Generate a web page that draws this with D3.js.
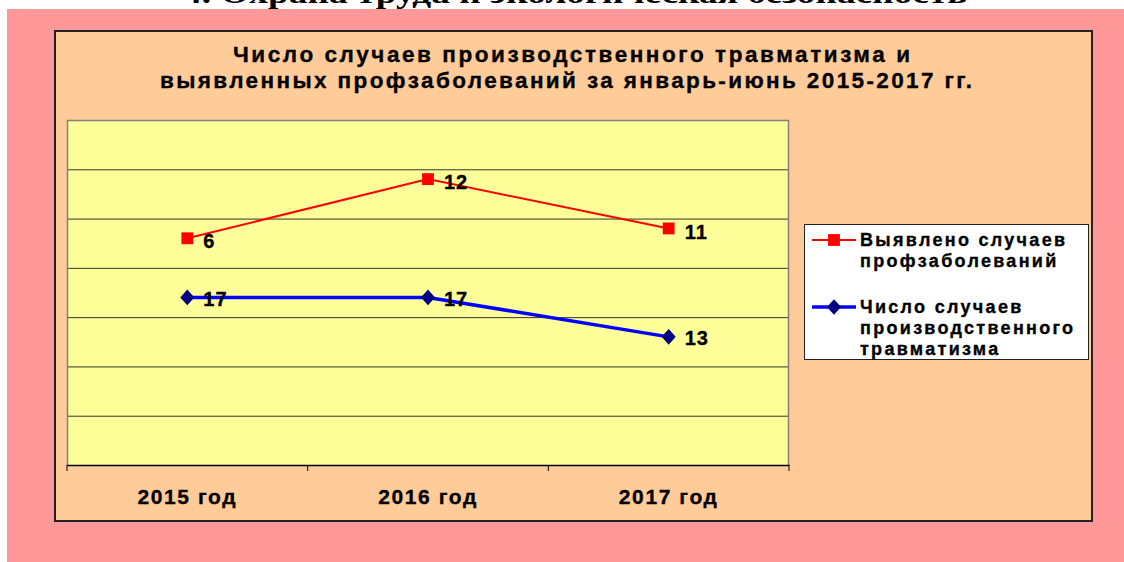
<!DOCTYPE html>
<html>
<head>
<meta charset="utf-8">
<script src="https://cdn.jsdelivr.net/npm/d3@7"></script>
<style>
  body { margin: 0; background: #fff; }
  svg { display: block; }
  text { font-family: "Liberation Sans", Arial, sans-serif; font-weight: bold; fill: #000; stroke: #000; stroke-width: 0.35px; }
</style>
</head>
<body>
<div id="chart"></div>
<script>
// data
var years = ["2015 год", "2016 год", "2017 год"];
var diseases = [6, 12, 11];   // Выявлено случаев профзаболеваний
var injuries = [17, 17, 13];  // Число случаев производственного травматизма
var yTicks = [0, 5, 10, 15, 20, 25, 30, 35];
var titleLines = ["Число случаев производственного травматизма и",
                  "выявленных профзаболеваний за январь-июнь 2015-2017 гг."];
var legendDiseases = ["Выявлено случаев", "профзаболеваний"];
var legendInjuries = ["Число случаев", "производственного", "травматизма"];

var w = 1124, h = 562;

var svg = d3.select("#chart").append("svg")
  .attr("width", w)
  .attr("height", h);

// page heading, mostly hidden behind the pink frame
svg.append("text")
  .attr("x", 183)
  .attr("y", 3)
  .attr("textLength", 784)
  .attr("lengthAdjust", "spacingAndGlyphs")
  .style("font-family", "'Liberation Serif', 'Times New Roman', serif")
  .style("font-size", "30px")
  .style("stroke-width", 0)
  .text("4. Охрана труда и экологическая безопасность");

// pink frame
svg.append("rect")
  .attr("x", 7).attr("y", 9)
  .attr("width", w - 7).attr("height", h - 9)
  .attr("fill", "#FF9999");

// chart panel
svg.append("rect")
  .attr("x", 55).attr("y", 31)
  .attr("width", 1037).attr("height", 490)
  .attr("fill", "#FFCC99")
  .attr("stroke", "#222")
  .attr("stroke-width", 2);

// title
var titleWidths = [677, 812];
svg.selectAll(".title")
  .data(titleLines)
  .enter().append("text")
  .attr("class", "title")
  .attr("x", (d, i) => i === 0 ? 233 : 160)
  .attr("y", (d, i) => 62 + i * 26)
  .attr("textLength", (d, i) => titleWidths[i])
  .attr("lengthAdjust", "spacing")
  .style("font-size", "22.5px")
  .text(d => d);

var margin = { top: 120, left: 67 };
var innerWidth = 722, innerHeight = 345;

var g = svg.append("g")
  .attr("transform", "translate(" + margin.left + "," + margin.top + ")");

g.append("rect")
  .attr("width", innerWidth)
  .attr("height", innerHeight)
  .attr("fill", "#FFFF99");

var xScale = d3.scaleBand()
  .domain(years)
  .range([0, innerWidth]);

var yScale = d3.scaleLinear()
  .domain([0, 35])
  .range([innerHeight, 0]);

// gridlines
g.append("g")
  .attr("class", "grid")
  .call(d3.axisLeft(yScale).tickValues(yTicks).tickSize(-innerWidth).tickFormat(""))
  .call(s => s.select(".domain").remove())
  .selectAll("line")
  .attr("stroke", d => d === 35 ? "#808080" : "#333")
  .attr("stroke-width", 1);

// plot border (left / right)
g.append("path")
  .attr("d", "M0.5," + innerHeight + "V0.5H" + (innerWidth - 0.5) + "V" + innerHeight)
  .attr("fill", "none")
  .attr("stroke", "#808080")
  .attr("stroke-width", 1.5);

// x axis
var xAxis = g.append("g")
  .attr("transform", "translate(0," + innerHeight + ")")
  .call(d3.axisBottom(xScale).tickSize(0).tickPadding(24));
xAxis.select(".domain").attr("stroke", "#000").attr("stroke-width", 1.5);
xAxis.selectAll("text")
  .attr("fill", "#000")
  .style("font-size", "21px")
  .style("letter-spacing", "1.6px")
  .style("font-family", "'Liberation Sans', Arial, sans-serif");

// boundary ticks between categories
var bounds = years.map(d => xScale(d)).concat([innerWidth]);
g.selectAll(".btick")
  .data(bounds)
  .enter().append("line")
  .attr("x1", d => d).attr("x2", d => d)
  .attr("y1", innerHeight).attr("y2", innerHeight + 6)
  .attr("stroke", "#000");

// stacked line chart
var rows = years.map((y, i) => ({ year: y, injuries: injuries[i], diseases: diseases[i] }));
var stack = d3.stack().keys(["injuries", "diseases"])(rows);

var cx = d => xScale(d.data.year) + xScale.bandwidth() / 2;

var line = d3.line()
  .x(cx)
  .y(d => yScale(d[1]));

var styles = {
  injuries: { stroke: "#0000FF", width: 3.5, marker: "#000080", symbol: d3.symbolDiamond, size: 110, dy: 1 },
  diseases: { stroke: "#FF0000", width: 2, marker: "#FF0000", symbol: d3.symbolSquare, size: 140, dy: 3 }
};

stack.forEach(function(series) {
  var st = styles[series.key];
  g.append("path")
    .datum(series)
    .attr("d", line)
    .attr("fill", "none")
    .attr("stroke", st.stroke)
    .attr("stroke-width", st.width);

  g.selectAll(".m-" + series.key)
    .data(series)
    .enter().append("path")
    .attr("d", d3.symbol().type(st.symbol).size(st.size))
    .attr("transform", d => "translate(" + cx(d) + "," + yScale(d[1]) + ")" + (series.key === "injuries" ? " scale(1.25,0.8)" : ""))
    .attr("fill", st.marker);

  g.selectAll(".l-" + series.key)
    .data(series)
    .enter().append("text")
    .attr("x", d => cx(d) + 16)
    .attr("y", d => yScale(d[1]) + st.dy)
    .attr("dy", "0.36em")
    .style("font-size", "20px")
    .style("letter-spacing", "1px")
    .text(d => d.data[series.key]);
});

// legend
var legend = svg.append("g");
legend.append("rect")
  .attr("x", 804.5).attr("y", 224.5)
  .attr("width", 284).attr("height", 135)
  .attr("fill", "#fff")
  .attr("stroke", "#222")
  .attr("stroke-width", 1);

var legendItems = [
  { key: "diseases", lines: legendDiseases, y: 240 },
  { key: "injuries", lines: legendInjuries, y: 307 }
];

legendItems.forEach(function(item) {
  var st = styles[item.key];
  legend.append("line")
    .attr("x1", 812).attr("x2", 856)
    .attr("y1", item.y).attr("y2", item.y)
    .attr("stroke", st.stroke)
    .attr("stroke-width", st.width);
  legend.append("path")
    .attr("d", d3.symbol().type(st.symbol).size(st.size)())
    .attr("transform", "translate(834," + item.y + ")" + (item.key === "injuries" ? " scale(1.25,0.8)" : ""))
    .attr("fill", st.marker);
  legend.selectAll(".t-" + item.key)
    .data(item.lines)
    .enter().append("text")
    .attr("x", 860)
    .attr("y", (d, i) => item.y + 6 + i * 21)
    .style("font-size", "18px")
    .style("letter-spacing", "2.3px")
    .text(d => d);
});
</script>
</body>
</html>
